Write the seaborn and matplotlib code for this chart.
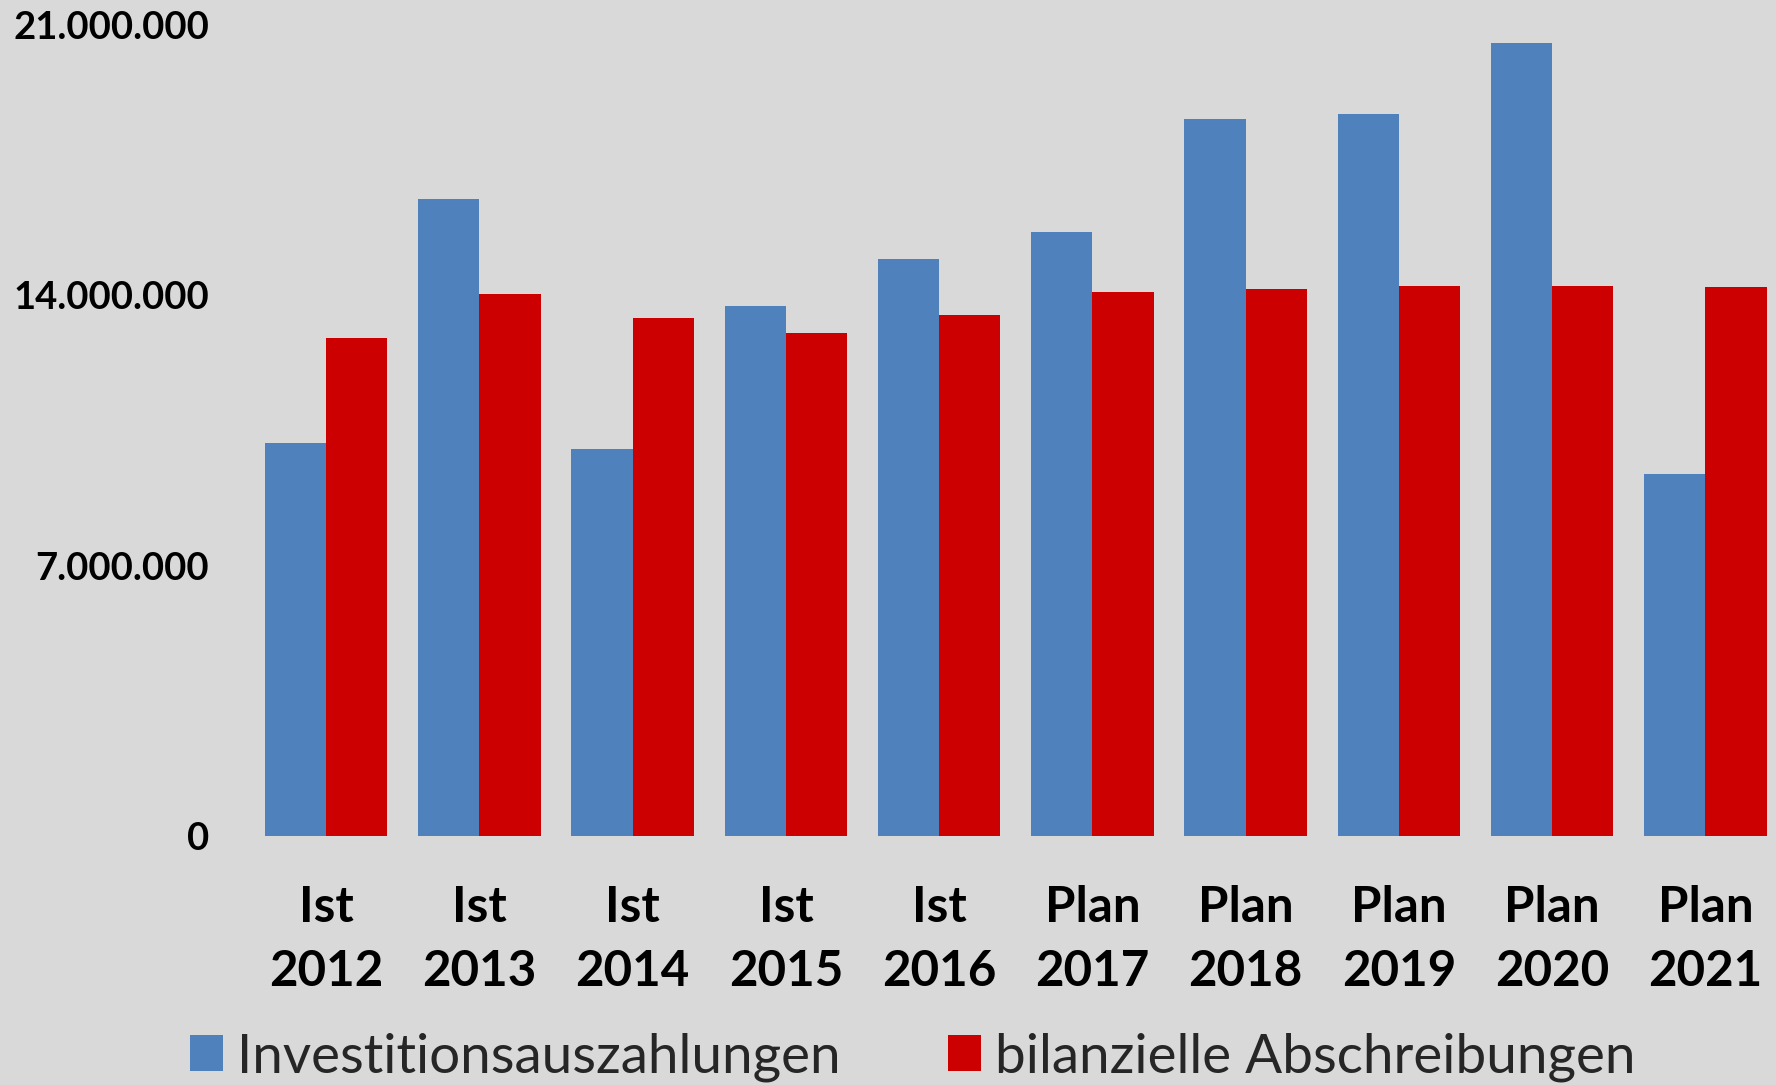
import matplotlib
matplotlib.use("Agg")
import matplotlib.pyplot as plt
import seaborn as sns
import pandas as pd
from matplotlib.patches import Patch

# ---- data ----
categories = ["Ist\n2012", "Ist\n2013", "Ist\n2014", "Ist\n2015", "Ist\n2016",
              "Plan\n2017", "Plan\n2018", "Plan\n2019", "Plan\n2020", "Plan\n2021"]
investitionen = [10180000, 16480000, 10020000, 13720000, 14930000,
                 15620000, 18550000, 18680000, 20510000, 9370000]
abschreibungen = [12880000, 14030000, 13400000, 13020000, 13480000,
                  14070000, 14150000, 14240000, 14230000, 14210000]
series_names = ["Investitionsauszahlungen", "bilanzielle Abschreibungen"]
y_ticks = [0, 7000000, 14000000, 21000000]
y_tick_labels = ["0", "7.000.000", "14.000.000", "21.000.000"]

colors = {series_names[0]: "#4F81BD", series_names[1]: "#CC0000"}
bg = "#D9D9D9"

df = pd.DataFrame({
    "cat": categories * 2,
    "value": investitionen + abschreibungen,
    "series": [series_names[0]] * len(categories) + [series_names[1]] * len(categories),
})

sns.set_theme(style="white")
plt.rcParams["font.family"] = ["Lato", "DejaVu Sans"]

fig = plt.figure(figsize=(17.76, 10.85), dpi=100, facecolor=bg)
ax = fig.add_axes([0.1405, 0.2295, 0.8629, 0.7479])
ax.set_facecolor(bg)

sns.barplot(data=df, x="cat", y="value", hue="series", order=categories,
            hue_order=series_names, palette=colors, width=0.8,
            saturation=1, ax=ax, legend=False, linewidth=0)

ax.set_xlim(-0.5, len(categories) - 0.5)
ax.set_ylim(0, 21000000)
ax.set_yticks(y_ticks)
ax.set_yticklabels(y_tick_labels, fontsize=27.5, fontweight="bold", color="black")
ax.set_xticks(range(len(categories)))
ax.set_xticklabels(categories, fontsize=35.5, fontweight="bold", color="black",
                   linespacing=1.52)
ax.tick_params(axis="y", length=0, pad=29)
ax.tick_params(axis="x", length=0, pad=35)
ax.set_xlabel("")
ax.set_ylabel("")
ax.grid(False)
for s in ax.spines.values():
    s.set_visible(False)

handles = [Patch(facecolor=colors[n], edgecolor="none", label=n) for n in series_names]
fig.legend(handles=handles, loc="center", bbox_to_anchor=(0.514, 0.026), ncol=2,
           frameon=False, fontsize=39.4, handlelength=0.6, handleheight=0.62,
           handletextpad=0.27, columnspacing=1.95, borderpad=0, borderaxespad=0)

fig.savefig("out.png", dpi=100, facecolor=bg)
